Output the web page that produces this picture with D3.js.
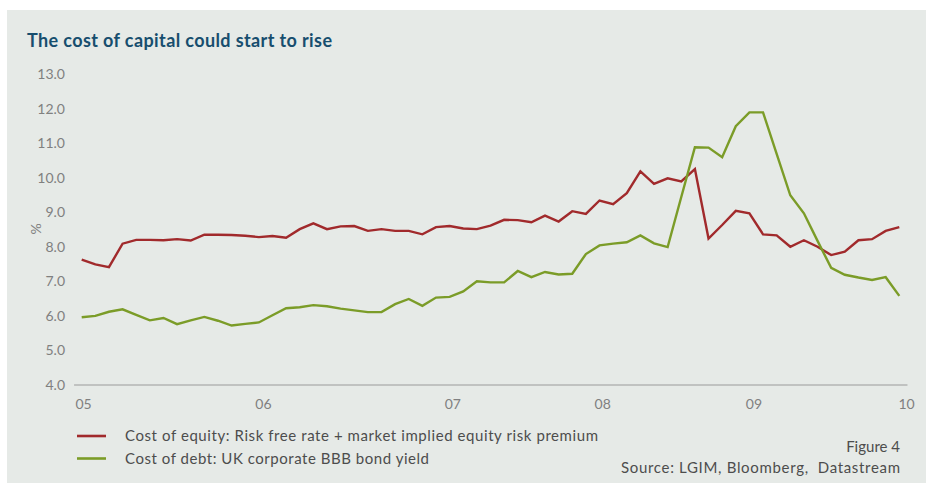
<!DOCTYPE html>
<html>
<head>
<meta charset="utf-8">
<script src="https://cdn.jsdelivr.net/npm/d3@7"></script>
<style>
  html, body { margin: 0; padding: 0; background: #ffffff; }
  svg { display: block; }
</style>
</head>
<body>
<svg id="chart" width="933" height="483"></svg>
<script>
// ---- data (monthly, Jan 2005 .. Jan 2010) ----
const costOfEquity = [
  7.63, 7.49, 7.41, 8.09, 8.20, 8.20, 8.19, 8.22, 8.18, 8.35,
  8.35, 8.34, 8.32, 8.28, 8.31, 8.26, 8.51, 8.68, 8.51, 8.59,
  8.60, 8.46, 8.51, 8.46, 8.46, 8.36, 8.57, 8.60, 8.53, 8.51,
  8.61, 8.78, 8.77, 8.71, 8.90, 8.73, 9.03, 8.95, 9.34, 9.23,
  9.55, 10.18, 9.82, 9.98, 9.89, 10.25, 8.24, 8.63, 9.04, 8.97,
  8.36, 8.33, 8.00, 8.19, 8.00, 7.76, 7.86, 8.19, 8.22, 8.46,
  8.57
];
const costOfDebt = [
  5.96, 6.00, 6.12, 6.19, 6.03, 5.87, 5.94, 5.76, 5.87, 5.97,
  5.86, 5.72, 5.77, 5.81, 6.02, 6.22, 6.25, 6.31, 6.28, 6.21,
  6.16, 6.11, 6.11, 6.34, 6.49, 6.29, 6.53, 6.55, 6.71, 7.00,
  6.97, 6.97, 7.30, 7.12, 7.27, 7.20, 7.22, 7.79, 8.04, 8.09,
  8.13, 8.33, 8.10, 7.99, 9.44, 10.88, 10.87, 10.59, 11.49, 11.89,
  11.89, 10.69, 9.49, 8.97, 8.17, 7.39, 7.19, 7.11, 7.04, 7.12,
  6.58
];
const xTickLabels = ["05", "06", "07", "08", "09", "10"];
const xTickIndex = [0.1, 13.3, 27.2, 38.2, 49.3, 60.5];
const yTicks = [4, 5, 6, 7, 8, 9, 10, 11, 12, 13];
const seriesNames = [
  "Cost of equity: Risk free rate + market implied equity risk premium",
  "Cost of debt: UK corporate BBB bond yield"
];
const seriesColors = ["#a12a2c", "#7b9c28"];

// ---- drawing ----
const svg = d3.select("#chart");
const FONT = "Lato, 'Open Sans', sans-serif";

svg.append("rect")
  .attr("x", 7).attr("y", 10).attr("width", 919).attr("height", 473)
  .attr("fill", "#e6eae7");

svg.append("text")
  .attr("x", 27).attr("y", 47)
  .attr("font-family", FONT).attr("font-weight", "bold").attr("font-size", 18)
  .attr("fill", "#174e6e")
  .attr("textLength", 305).attr("lengthAdjust", "spacing")
  .text("The cost of capital could start to rise");

const x = d3.scaleLinear().domain([0, costOfEquity.length - 1]).range([81.7, 899.3]);
const y = d3.scaleLinear().domain([4, 13]).range([385, 74]);

// y axis labels
const yAxis = d3.axisLeft(y).tickValues(yTicks).tickSize(0).tickPadding(0)
  .tickFormat(d3.format(".1f"));
const gy = svg.append("g").attr("transform", "translate(65,0)").call(yAxis);
gy.select(".domain").remove();
gy.selectAll("text").attr("font-family", FONT).attr("font-size", 14).attr("fill", "#808080");

svg.append("text")
  .attr("transform", "translate(41,229) rotate(-90)")
  .attr("text-anchor", "middle")
  .attr("font-family", FONT).attr("font-size", 14).attr("fill", "#808080")
  .text("%");

// x axis
svg.append("line")
  .attr("x1", x(-0.56)).attr("x2", x(60.6))
  .attr("y1", y(4)).attr("y2", y(4))
  .attr("stroke", "#9a9a9a").attr("stroke-width", 1);

const xAxis = d3.axisBottom(x).tickValues(xTickIndex).tickSize(0).tickPadding(14)
  .tickFormat((d, i) => xTickLabels[i]);
const gx = svg.append("g").attr("transform", `translate(0,${y(4)})`).call(xAxis);
gx.select(".domain").remove();
gx.selectAll("text").attr("font-family", FONT).attr("font-size", 14).attr("fill", "#808080");

// lines
const line = d3.line().x((d, i) => x(i)).y(d => y(d));
[costOfEquity, costOfDebt].forEach((s, k) => {
  svg.append("path")
    .datum(s)
    .attr("d", line)
    .attr("fill", "none")
    .attr("stroke", seriesColors[k])
    .attr("stroke-width", 2.4)
    .attr("stroke-linejoin", "miter");
});

// legend
const legendWidths = [473, 304];
const lg = svg.append("g");
seriesNames.forEach((name, k) => {
  const ly = 436 + k * 22.5;
  lg.append("line")
    .attr("x1", 77).attr("x2", 106).attr("y1", ly).attr("y2", ly)
    .attr("stroke", seriesColors[k]).attr("stroke-width", 2.6);
  lg.append("text")
    .attr("x", 125).attr("y", ly).attr("dy", "0.35em")
    .attr("font-family", FONT).attr("font-size", 15).attr("fill", "#4d4d4d")
    .attr("textLength", legendWidths[k]).attr("lengthAdjust", "spacing")
    .text(name);
});

svg.append("text")
  .attr("x", 900).attr("y", 447).attr("dy", "0.35em").attr("text-anchor", "end")
  .attr("font-family", FONT).attr("font-size", 15).attr("fill", "#4d4d4d")
  .text("Figure 4");
svg.append("text")
  .attr("x", 621).attr("y", 468).attr("dy", "0.35em")
  .attr("font-family", FONT).attr("font-size", 15).attr("fill", "#4d4d4d")
  .attr("textLength", 279).attr("lengthAdjust", "spacing")
  .style("white-space", "pre")
  .text("Source: LGIM, Bloomberg,  Datastream");
</script>
</body>
</html>
